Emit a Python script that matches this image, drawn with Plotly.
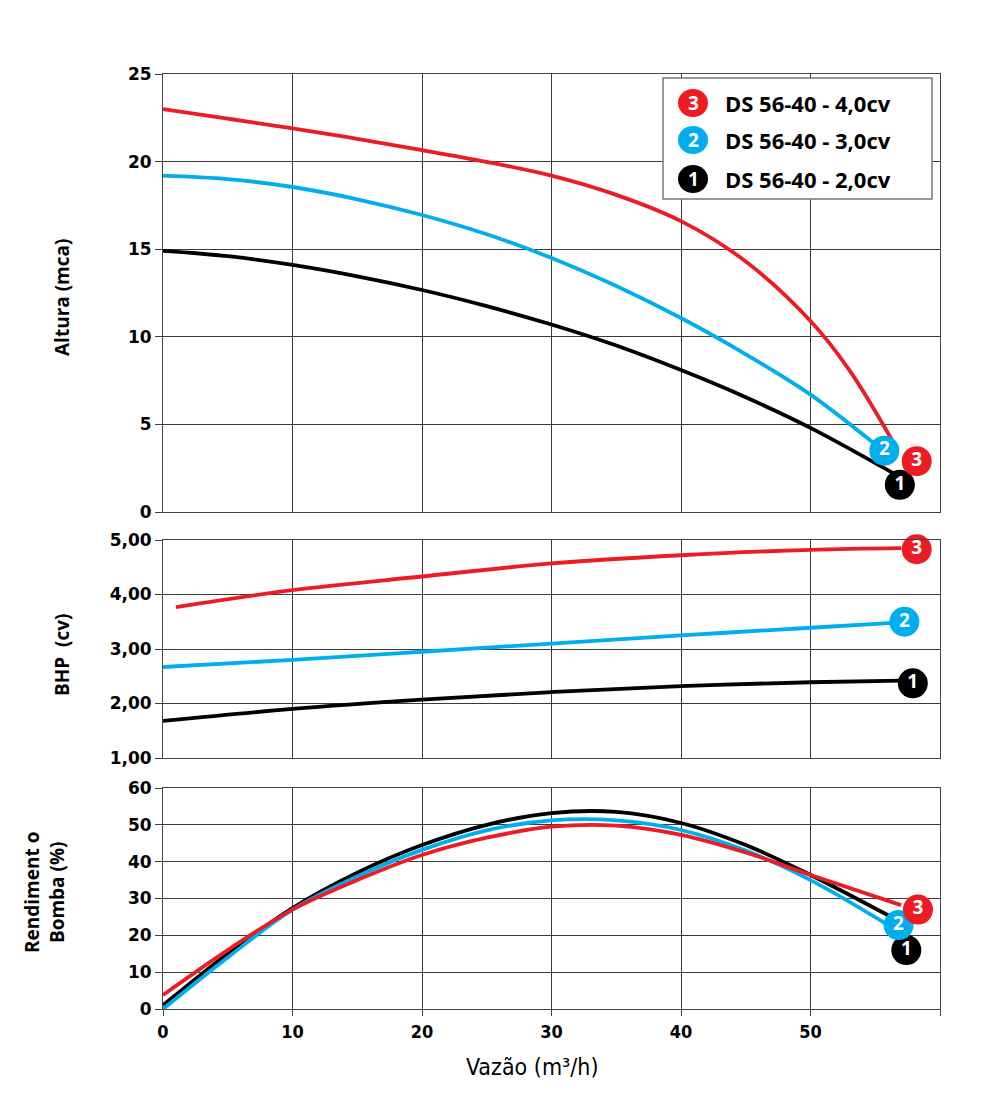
import plotly.graph_objects as go

RED = "#ED1C24"
BLUE = "#00AEEF"
BLACK = "#000000"

# ---------------- data ----------------
# Altura (mca)
alt_x_3 = [0, 5, 10, 15, 20, 25, 30, 35, 40, 45, 50, 53, 56.3]
alt_y_3 = [23.0, 22.45, 21.9, 21.3, 20.66, 19.98, 19.2, 18.1, 16.6, 14.3, 10.9, 8.1, 4.1]
alt_x_2 = [0, 5, 10, 15, 20, 25, 30, 35, 40, 45, 50, 55.6]
alt_y_2 = [19.2, 19.0, 18.55, 17.85, 16.95, 15.85, 14.5, 12.9, 11.07, 9.0, 6.7, 3.5]
alt_x_1 = [0, 5, 10, 15, 20, 25, 30, 35, 40, 45, 50, 56.9]
alt_y_1 = [14.9, 14.6, 14.1, 13.45, 12.67, 11.75, 10.7, 9.5, 8.1, 6.55, 4.8, 2.0]

# BHP (cv)
bhp_x_3 = [1, 10, 20, 30, 40, 50, 57]
bhp_y_3 = [3.77, 4.08, 4.33, 4.57, 4.72, 4.82, 4.85]
bhp_x_2 = [0, 10, 20, 30, 40, 50, 57]
bhp_y_2 = [2.67, 2.80, 2.95, 3.10, 3.25, 3.39, 3.49]
bhp_x_1 = [0, 10, 20, 30, 40, 50, 57]
bhp_y_1 = [1.68, 1.90, 2.07, 2.21, 2.32, 2.39, 2.42]

# Rendimento bomba (%)
ren_x_3 = [0, 5, 10, 15, 20, 25, 30, 35, 40, 45, 50, 57]
ren_y_3 = [3.8, 16, 27, 35, 41.8, 46.5, 49.5, 49.8, 47.3, 42.5, 36.4, 28.2]
ren_x_2 = [0, 5, 10, 15, 20, 25, 30, 35, 40, 45, 50, 56]
ren_y_2 = [0, 14, 27, 36, 43.2, 48.5, 51.2, 51.2, 48.6, 43, 35, 22.8]
ren_x_1 = [0, 5, 10, 15, 20, 25, 30, 35, 40, 45, 50, 56.5]
ren_y_1 = [1, 15, 27.4, 37, 44.5, 50, 53.2, 53.5, 50.5, 44.5, 36.4, 24.5]

series_names = ["DS 56-40 - 4,0cv", "DS 56-40 - 3,0cv", "DS 56-40 - 2,0cv"]
series_nums = ["3", "2", "1"]
series_colors = [RED, BLUE, BLACK]

x_ticks = [0, 10, 20, 30, 40, 50, 60]
x_ticktext = ["0", "10", "20", "30", "40", "50", ""]
alt_ticks = [0, 5, 10, 15, 20, 25]
bhp_ticks = [1, 2, 3, 4, 5]
bhp_ticktext = ["1,00", "2,00", "3,00", "4,00", "5,00"]
ren_ticks = [0, 10, 20, 30, 40, 50, 60]

# label badge positions (x, y) per subplot, for series 3, 2, 1
alt_lab = [(58.2, 2.9), (55.7, 3.5), (56.9, 1.55)]
bhp_lab = [(58.2, 4.83), (57.25, 3.5), (57.9, 2.37)]
ren_lab = [(58.3, 27.0), (56.8, 22.8), (57.4, 16.0)]

# ---------------- figure ----------------
fig = go.Figure()

def add_series(xs, ys, color, xa, ya):
    fig.add_trace(go.Scatter(x=xs, y=ys, mode="lines",
                             line=dict(color=color, width=3.8, shape="spline", smoothing=1.0),
                             xaxis=xa, yaxis=ya, showlegend=False, hoverinfo="skip"))

def add_badge(pos, num, color, xa, ya):
    fig.add_trace(go.Scatter(x=[pos[0]], y=[pos[1]], mode="markers+text", text=[num],
                             textposition="middle center",
                             textfont=dict(color="white", size=19, family="Open Sans", weight="bold"),
                             marker=dict(color=color, size=30, line=dict(width=0)),
                             xaxis=xa, yaxis=ya, showlegend=False, hoverinfo="skip", cliponaxis=False))

groups = [
    ("x", "y", [(alt_x_1, alt_y_1), (alt_x_2, alt_y_2), (alt_x_3, alt_y_3)], alt_lab),
    ("x2", "y2", [(bhp_x_1, bhp_y_1), (bhp_x_2, bhp_y_2), (bhp_x_3, bhp_y_3)], bhp_lab),
    ("x3", "y3", [(ren_x_1, ren_y_1), (ren_x_2, ren_y_2), (ren_x_3, ren_y_3)], ren_lab),
]
# draw order: black (1), blue (2), red (3)
order = [2, 1, 0]
for xa, ya, data, labs in groups:
    for k, idx in enumerate(order):
        xs, ys = data[k]
        add_series(xs, ys, series_colors[idx], xa, ya)
    for idx in order:
        add_badge(labs[idx], series_nums[idx], series_colors[idx], xa, ya)

H = 1119
top_px, bot_px = 74, 1009
plot_h = bot_px - top_px
def py(p):
    return (bot_px - p) / plot_h

grid = "#3a3a3a"
tickfont = dict(family="DejaVu Sans", size=17, color="black", weight="bold")
xtickfont = dict(family="Liberation Sans Narrow, DejaVu Sans Condensed, Liberation Sans", size=18,
                 color="black", weight="bold")

common_x = dict(range=[0, 60], tickvals=x_ticks, showgrid=True, gridcolor=grid, gridwidth=1,
                showline=True, linecolor="#444", linewidth=1, mirror=True, zeroline=False, fixedrange=True)
common_y = dict(showgrid=True, gridcolor=grid, gridwidth=1, showline=True, linecolor="#444",
                linewidth=1, mirror=True, zeroline=False, ticks="outside", ticklen=7, tickcolor="#444",
                tickfont=tickfont, fixedrange=True)

fig.update_layout(
    width=1000, height=H,
    margin=dict(l=163, r=60, t=top_px, b=H - bot_px),
    plot_bgcolor="white", paper_bgcolor="white",
    xaxis=dict(common_x, domain=[0, 1], anchor="y", showticklabels=False),
    xaxis2=dict(common_x, domain=[0, 1], anchor="y2", showticklabels=False),
    xaxis3=dict(common_x, domain=[0, 1], anchor="y3", ticktext=x_ticktext, ticks="outside",
                ticklen=6, tickcolor="#444", tickfont=xtickfont),
    yaxis=dict(common_y, domain=[py(512), 1.0], range=[0, 25], tickvals=alt_ticks),
    yaxis2=dict(common_y, domain=[py(758), py(540)], range=[1, 5], tickvals=bhp_ticks, ticktext=bhp_ticktext),
    yaxis3=dict(common_y, domain=[0, py(788)], range=[0, 60], tickvals=ren_ticks),
    showlegend=False,
)

def px_x(p):
    return (p - 163) / 777

title_font = dict(family="Open Sans", size=19, color="black", weight="bold")
ann = []
ann.append(dict(text="Altura (mca)", x=px_x(62), y=py(298), xref="paper", yref="paper", textangle=-90,
                xanchor="center", yanchor="middle", showarrow=False, font=title_font))
ann.append(dict(text="BHP  (cv)", x=px_x(62), y=py(655), xref="paper", yref="paper", textangle=-90,
                xanchor="center", yanchor="middle", showarrow=False, font=title_font))
ann.append(dict(text="Rendiment o<br>Bomba (%)", x=px_x(44), y=py(893), xref="paper", yref="paper",
                textangle=-90, xanchor="center", yanchor="middle", showarrow=False, font=title_font))
ann.append(dict(text="Vazão (m³/h)", x=px_x(532), y=py(1067), xref="paper", yref="paper",
                xanchor="center", yanchor="middle", showarrow=False,
                font=dict(family="Liberation Sans Narrow, DejaVu Sans Condensed, Liberation Sans", size=23,
                          color="black")))

shapes = []
# legend box
shapes.append(dict(type="rect", xref="paper", yref="paper", x0=px_x(663), x1=px_x(932), y0=py(199), y1=py(78),
                   line=dict(color="#777", width=1.5), fillcolor="white", layer="above"))
leg_rows = [103, 140, 179]
for i in range(3):
    shapes.append(dict(type="circle", xref="paper", yref="paper", xsizemode="pixel", ysizemode="pixel",
                       xanchor=px_x(693), yanchor=py(leg_rows[i]), x0=-15, x1=15, y0=-14, y1=14,
                       fillcolor=series_colors[i], line=dict(width=0), layer="above"))
    ann.append(dict(text=series_nums[i], x=px_x(693), y=py(leg_rows[i]), xref="paper", yref="paper",
                    xanchor="center", yanchor="middle", showarrow=False,
                    font=dict(family="Open Sans", size=19, color="white", weight="bold")))
    ann.append(dict(text=series_names[i], x=px_x(723), y=py(leg_rows[i]), xref="paper", yref="paper",
                    xanchor="left", yanchor="middle", showarrow=False,
                    font=dict(family="Open Sans", size=22, color="black", weight="bold")))

fig.update_layout(annotations=ann, shapes=shapes)

fig.write_html("out.html")
